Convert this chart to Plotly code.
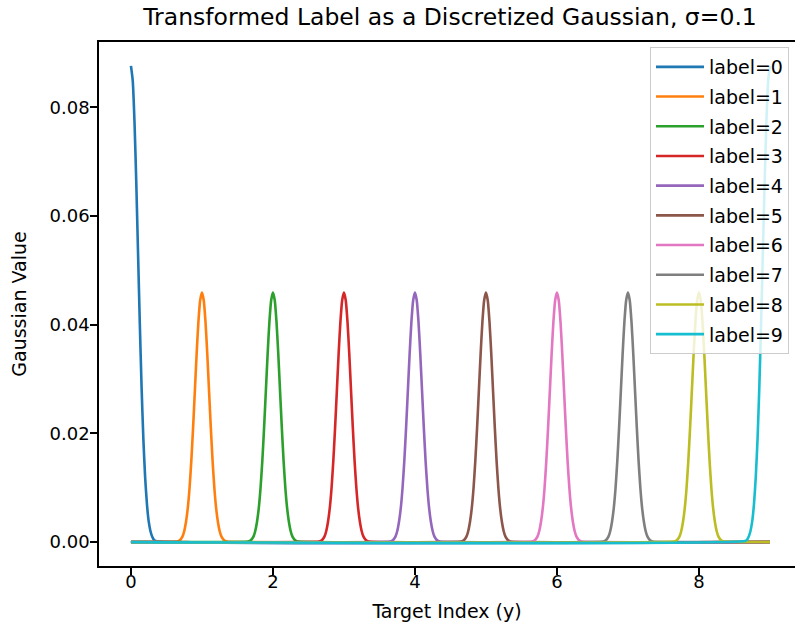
import plotly.graph_objects as go

# ---- data ----
labels = [0, 1, 2, 3, 4, 5, 6, 7, 8, 9]
label_names = ["label=0", "label=1", "label=2", "label=3", "label=4",
               "label=5", "label=6", "label=7", "label=8", "label=9"]
colors = ["#1f77b4", "#ff7f0e", "#2ca02c", "#d62728", "#9467bd",
          "#8c564b", "#e377c2", "#7f7f7f", "#bcbd22", "#17becf"]

x_min = 0.0
x_max = 9.0

# offsets from each label's centre (target index units)
peak_offsets = [-0.35, -0.325, -0.3, -0.275, -0.25, -0.225, -0.2, -0.175, -0.15,
                -0.125, -0.1, -0.075, -0.05, -0.025, 0.0, 0.025, 0.05, 0.075,
                0.1, 0.125, 0.15, 0.175, 0.2, 0.225, 0.25, 0.275, 0.3, 0.325, 0.35]

# inner labels (1..8): peak ~0.0459
inner_values = [0.0001, 0.0002, 0.0005, 0.0010, 0.0020, 0.0037, 0.0062, 0.0099, 0.0149,
                0.0210, 0.0278, 0.0346, 0.0405, 0.0445, 0.0459, 0.0445, 0.0405, 0.0346,
                0.0278, 0.0210, 0.0149, 0.0099, 0.0062, 0.0037, 0.0020, 0.0010, 0.0005,
                0.0002, 0.0001]

# edge labels (0 and 9): peak ~0.0876 (half curve inside the range)
edge_values = [0.0002, 0.0004, 0.0010, 0.0020, 0.0038, 0.0070, 0.0119, 0.0189, 0.0284,
               0.0401, 0.0531, 0.0661, 0.0773, 0.0849, 0.0876, 0.0849, 0.0773, 0.0661,
               0.0531, 0.0401, 0.0284, 0.0189, 0.0119, 0.0070, 0.0038, 0.0020, 0.0010,
               0.0004, 0.0002]

x_ticks = [0, 2, 4, 6, 8]
y_ticks = [0.00, 0.02, 0.04, 0.06, 0.08]

title_text = "Transformed Label as a Discretized Gaussian, σ=0.1"
x_title = "Target Index (y)"
y_title = "Gaussian Value"

FONT = "DejaVu Sans"
FS = 19
TICKFS = 18
TFS = 23.5

fig = go.Figure()
for lab, name, col in zip(labels, label_names, colors):
    vals = edge_values if lab in (0, 9) else inner_values
    xs, ys = [], []
    pts = [(lab + o, v) for o, v in zip(peak_offsets, vals) if x_min <= lab + o <= x_max]
    if pts[0][0] > x_min:
        xs.append(x_min); ys.append(0.0)
    for px, py in pts:
        xs.append(px); ys.append(py)
    if pts[-1][0] < x_max:
        xs.append(x_max); ys.append(0.0)
    fig.add_trace(go.Scatter(
        x=xs, y=ys, mode="lines", name=name,
        line=dict(color=col, width=2.6, shape="spline", smoothing=0.6),
        legendgroup=name,
    ))

W, H = 795, 628
ml, mr, mt, mb = 99, 0, 42, 62
pw = W - ml - mr
ph = H - mt - mb

fig.update_layout(
    width=W, height=H,
    margin=dict(l=ml, r=mr, t=mt, b=mb, pad=0),
    paper_bgcolor="white", plot_bgcolor="white",
    font=dict(family=FONT, size=FS, color="black"),
    title=dict(text=title_text, font=dict(family=FONT, size=TFS, color="black"),
               x=450 / W, xref="container", xanchor="center",
               y=1 - 17 / H, yref="container", yanchor="middle"),
    showlegend=True,
    legend=dict(
        x=(789 - ml) / pw, xanchor="right",
        y=1 - 5 / ph, yanchor="top",
        bgcolor="rgba(255,255,255,0.8)",
        bordercolor="#cccccc", borderwidth=1,
        font=dict(family=FONT, size=FS, color="black"),
        itemwidth=48, tracegroupgap=2,
    ),
    xaxis=dict(
        range=[-0.45, (W - ml) / 71.0 - 0.45],
        tickvals=x_ticks, ticktext=[str(t) for t in x_ticks],
        showgrid=False, zeroline=False,
        showline=True, linecolor="black", linewidth=1.5, mirror=True,
        ticks="outside", ticklen=7, tickwidth=1.5, tickcolor="black",
        ticklabelstandoff=-8,
        tickfont=dict(family=FONT, size=TICKFS, color="black"),
        title=dict(text=x_title, font=dict(family=FONT, size=FS, color="black"), standoff=13),
    ),
    yaxis=dict(
        range=[-0.0044, 0.0920],
        tickvals=y_ticks, ticktext=[f"{t:.2f}" for t in y_ticks],
        showgrid=False, zeroline=False,
        showline=True, linecolor="black", linewidth=1.5, mirror=False,
        ticks="outside", ticklen=7, tickwidth=1.5, tickcolor="black",
        ticklabelstandoff=-3,
        tickfont=dict(family=FONT, size=TICKFS, color="black"),
        title=dict(text=y_title, font=dict(family=FONT, size=FS, color="black"), standoff=18),
    ),
)

fig.write_html("out.html")
